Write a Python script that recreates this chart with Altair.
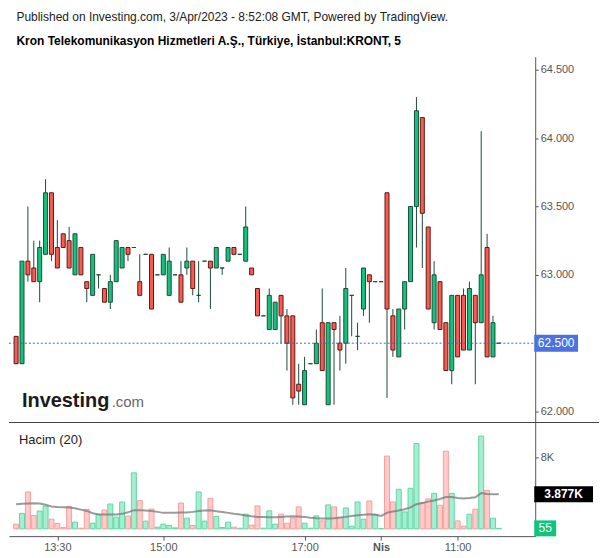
import altair as alt
import pandas as pd
import numpy as np

# ---- data (5-minute candles, index 1..83) ----
opens = [62.55, 62.35, 63.10, 63.05, 62.95, 63.15, 63.60, 63.20, 63.30, 63.25,
         63.00, 63.20, 62.95, 62.85, 63.00, 62.90, 62.80, 62.95, 63.05, 63.20,
         63.20, 62.95, 63.15, 63.15, 63.00, 63.00, 62.85, 63.00, 63.00, 63.05,
         63.10, 62.85, 63.10, 63.10, 63.05, 63.05, 63.10, 63.20, 63.15, 63.10,
         63.05, 62.90, 62.70, 62.60, 62.60, 62.85, 62.70, 62.70, 62.20, 62.05,
         62.35, 62.35, 62.65, 62.05, 62.65, 62.50, 62.50, 62.85, 62.55, 62.75,
         63.00, 62.95, 62.95, 63.60, 62.70, 62.40, 62.75, 62.95, 63.50, 64.15,
         63.35, 62.65, 62.95, 62.65, 62.30, 62.85, 62.85, 62.45, 62.85, 62.65,
         63.20, 62.40, 62.50]
highs = [62.55, 63.10, 63.50, 63.25, 63.25, 63.70, 63.60, 63.40, 63.30, 63.35,
         63.30, 63.20, 62.95, 63.15, 63.00, 62.90, 63.00, 63.25, 63.20, 63.20,
         63.20, 63.15, 63.15, 63.15, 63.00, 63.15, 63.20, 63.00, 63.10, 63.20,
         63.10, 63.10, 63.10, 63.10, 63.20, 63.05, 63.20, 63.20, 63.15, 63.50,
         63.05, 62.90, 62.70, 62.90, 62.80, 62.85, 62.75, 62.70, 62.35, 62.40,
         62.35, 62.60, 62.90, 62.65, 62.65, 62.70, 63.05, 62.85, 62.65, 63.05,
         63.00, 62.95, 62.95, 63.60, 62.75, 62.75, 62.95, 63.50, 64.30, 64.15,
         63.35, 63.10, 62.95, 62.65, 62.85, 62.85, 62.90, 62.95, 62.85, 64.05,
         63.30, 62.70, 62.50]
lows = [62.35, 62.35, 62.95, 62.95, 62.80, 63.15, 63.10, 63.05, 63.20, 63.05,
        63.00, 63.00, 62.80, 62.85, 62.90, 62.80, 62.75, 62.95, 63.05, 63.10,
        63.20, 62.85, 63.15, 62.75, 63.00, 63.00, 62.85, 63.00, 62.80, 63.00,
        62.85, 62.80, 63.10, 62.75, 63.05, 63.00, 63.10, 63.15, 63.15, 63.10,
        63.00, 62.70, 62.70, 62.60, 62.60, 62.50, 62.30, 62.05, 62.05, 62.05,
        62.35, 62.35, 62.30, 62.05, 62.05, 62.30, 62.35, 62.55, 62.45, 62.70,
        62.65, 62.95, 62.95, 62.10, 62.40, 62.40, 62.60, 62.95, 63.20, 63.05,
        62.75, 62.60, 62.60, 62.30, 62.20, 62.40, 62.45, 62.45, 62.20, 62.65,
        62.40, 62.40, 62.50]
closes = [62.35, 63.10, 63.00, 62.95, 63.20, 63.60, 63.15, 63.05, 63.20, 63.05,
          63.30, 63.00, 62.90, 63.15, 63.00, 62.80, 62.95, 63.25, 63.20, 63.15,
          63.20, 62.85, 63.15, 62.75, 63.00, 63.15, 63.10, 63.00, 62.80, 63.10,
          62.90, 62.85, 63.10, 63.05, 63.20, 63.05, 63.20, 63.15, 63.15, 63.35,
          63.00, 62.70, 62.70, 62.85, 62.80, 62.70, 62.50, 62.10, 62.15, 62.30,
          62.35, 62.50, 62.30, 62.65, 62.60, 62.45, 62.90, 62.85, 62.55, 63.05,
          62.95, 62.95, 62.95, 62.75, 62.45, 62.75, 62.95, 63.50, 64.20, 63.45,
          62.75, 63.00, 62.60, 62.30, 62.85, 62.40, 62.45, 62.90, 62.65, 63.00,
          62.40, 62.65, 62.50]
volumes = [530, 1730, 4130, 1500, 1990, 2550, 1090, 600, 150, 2520,
           750, 75, 2180, 640, 1615, 2100, 2780, 1315, 3000, 1430,
           6270, 3155, 865, 2215, 190, 525, 375, 110, 2890, 1200,
           375, 4130, 865, 3415, 1390, 150, 750, 190, 75, 1640,
           410, 2570, 75, 2010, 520, 1640, 630, 1230, 2455, 630,
           75, 1450, 890, 2680, 2455, 1265, 2340, 300, 3010, 1080,
           3125, 1640, 30, 8150, 3010, 4430, 1900, 4540, 9560, 2940,
           3350, 3980, 2640, 8700, 3980, 890, 300, 1640, 2200, 10380,
           4315, 1190, 55]
vol_ma = [2760, 2800, 2850, 2870, 2830, 2700, 2500, 2450, 2420, 2390,
          2300, 2150, 2010, 1750, 1600, 1600, 1600, 1620, 1680, 1850,
          2090, 2080, 2050, 2010, 1900, 1790, 1800, 1810, 1820, 1820,
          1900, 2010, 2060, 2090, 1980, 1880, 1790, 1680, 1600, 1490,
          1400, 1340, 1320, 1300, 1300, 1340, 1380, 1420, 1380, 1340,
          1250, 1180, 1160, 1160, 1200, 1270, 1340, 1440, 1530, 1590,
          1640, 1570, 1450, 1800, 1950, 2050, 2200, 2400, 2760, 2900,
          3050, 3170, 3350, 3570, 3560, 3450, 3390, 3450, 3540, 4000,
          3900, 3880, 3877]
tick_idx = [8, 26, 50, 63, 76]
tick_labels = ["13:30", "15:00", "17:00", "Nis", "11:00"]
bold_tick = 63
price_ticks = [62.0, 62.5, 63.0, 63.5, 64.0, 64.5]
vol_ticks = [8000]

FONT = "Liberation Sans"
n = len(opens)
df = pd.DataFrame({"i": list(range(1, n + 1)), "open": opens, "high": highs,
                   "low": lows, "close": closes, "vol": volumes, "ma": vol_ma})
df["dir"] = np.where(df["close"] >= df["open"], "up", "down")
df["vdir"] = np.where(df["close"] >= df["open"], "vup", "vdown")

W = 528
HP = 367
HV = 114
XD = [0.63, 88.33]
xs = alt.Scale(domain=XD, nice=False, zero=False)
ps = alt.Scale(domain=[61.92, 64.595], nice=False, zero=False)
vs = alt.Scale(domain=[-815, 11905], nice=False, zero=False)

# the last price is shown in its own box, so its plain axis label is left out
axis_prices = [p for p in price_ticks if abs(p - closes[-1]) > 1e-9]
price_axis = alt.Axis(orient="right", values=axis_prices, format=".3f", grid=False,
                      title=None, tickSize=3, labelPadding=2, labelFontSize=11,
                      labelColor="#555555", tickColor="#555555", domainColor="#555555",
                      labelFont=FONT)
x_none = alt.X("i:Q", scale=xs, axis=None)

base = alt.Chart(df)
wicks = base.mark_rule(color="#1d4b39", strokeWidth=1, clip=True).encode(
    x=x_none, y=alt.Y("low:Q", scale=ps, axis=price_axis), y2="high:Q")
bodies = base.mark_bar(size=4, strokeWidth=1, clip=True).encode(
    x=x_none, y=alt.Y("open:Q", scale=ps, axis=price_axis), y2="close:Q",
    fill=alt.Fill("dir:N", scale=alt.Scale(domain=["up", "down"], range=["#10c47d", "#f75b52"]), legend=None),
    stroke=alt.Stroke("dir:N", scale=alt.Scale(domain=["up", "down"], range=["#1d4b39", "#5c1a14"]), legend=None))

last = pd.DataFrame({"p": [closes[-1]], "lbl": [f"{closes[-1]:.3f}"]})
lc = alt.Chart(last)
last_line = lc.mark_rule(color="#3b63f0", strokeWidth=1, strokeDash=[2, 2]).encode(
    x=alt.value(0), x2=alt.value(W), y=alt.Y("p:Q", scale=ps, axis=price_axis))
last_box = lc.mark_point(shape="M-1,-0.386L1,-0.386L1,0.386L-1,0.386Z", size=1936,
                         filled=True, color="#4a72e0", opacity=1).encode(
    x=alt.value(W + 21), y=alt.Y("p:Q", scale=ps, axis=price_axis))
last_txt = lc.mark_text(color="white", fontSize=12, font=FONT, align="center",
                        baseline="middle").encode(
    x=alt.value(W + 21), y=alt.Y("p:Q", scale=ps, axis=price_axis), text="lbl:N")

logo = pd.DataFrame({"a": ["Investing"], "b": [".com"]})
logo1 = alt.Chart(logo).mark_text(fontSize=20, fontWeight="bold", font=FONT, color="#1a1a1a",
                                  align="left", baseline="alphabetic").encode(
    x=alt.value(13), y=alt.value(351), text="a:N")
logo2 = alt.Chart(logo).mark_text(fontSize=15, font=FONT, color="#666666",
                                  align="left", baseline="alphabetic").encode(
    x=alt.value(103), y=alt.value(351), text="b:N")

price_panel = alt.layer(wicks, bodies, last_line, last_box, last_txt, logo1, logo2).properties(
    width=W, height=HP)

# ---- volume panel ----
label_expr = " : ".join(f"datum.value == {t} ? '{l}'" for t, l in zip(tick_idx, tick_labels)) + " : ''"
x_axis = alt.Axis(values=tick_idx, labelExpr=label_expr, grid=False, title=None, tickSize=4,
                  labelPadding=1, labelFontSize=11, labelColor="#555555", tickColor="#555555",
                  domainColor="#555555", labelFont=FONT,
                  labelFontWeight={"condition": {"test": f"datum.value == {bold_tick}", "value": "bold"},
                                   "value": "normal"})
x_vol = alt.X("i:Q", scale=xs, axis=x_axis)
vol_axis = alt.Axis(orient="right", values=vol_ticks, labelExpr="datum.value/1000 + 'K'", grid=False,
                    title=None, tickSize=3, labelPadding=2, labelFontSize=11, labelColor="#555555",
                    tickColor="#555555", domainColor="#555555", labelFont=FONT)

vb = alt.Chart(df)
vbars = vb.mark_bar(size=5, strokeWidth=1).encode(
    x=x_vol, y=alt.Y("vol:Q", scale=vs, axis=vol_axis), y2=alt.datum(0),
    fill=alt.Fill("vdir:N", scale=alt.Scale(domain=["vup", "vdown"], range=["#a6edd1", "#ffcbca"]), legend=None),
    stroke=alt.Stroke("vdir:N", scale=alt.Scale(domain=["vup", "vdown"], range=["#5fd8a6", "#f7a09c"]), legend=None))
vline = vb.mark_line(color="#7a7a7a", strokeWidth=2, opacity=0.75).encode(
    x=x_vol, y=alt.Y("ma:Q", scale=vs, axis=vol_axis))

sep = alt.Chart(pd.DataFrame({"k": [0]})).mark_rule(color="#444444", strokeWidth=1).encode(
    x=alt.value(0), x2=alt.value(592), y=alt.value(0))
hacim = alt.Chart(pd.DataFrame({"t": ["Hacim (20)"]})).mark_text(
    fontSize=13, font=FONT, color="#222222", align="left", baseline="middle").encode(
    x=alt.value(10), y=alt.value(18), text="t:N")

vlast = pd.DataFrame({"v": [vol_ma[-1], volumes[-1]],
                      "lbl": [f"{vol_ma[-1] / 1000:.3f}K", f"{volumes[-1]}"]})
ma_box = alt.Chart(vlast.iloc[[0]]).mark_point(shape="M-1,-0.271L1,-0.271L1,0.271L-1,0.271Z",
                                               size=3481, filled=True, color="#000000", opacity=1).encode(
    x=alt.value(W + 28.5), y=alt.Y("v:Q", scale=vs, axis=vol_axis))
ma_txt = alt.Chart(vlast.iloc[[0]]).mark_text(color="white", fontSize=12, fontWeight="bold", font=FONT,
                                              align="center", baseline="middle").encode(
    x=alt.value(W + 28.5), y=alt.Y("v:Q", scale=vs, axis=vol_axis), text="lbl:N")
v_box = alt.Chart(vlast.iloc[[1]]).mark_point(shape="M-1,-0.727L1,-0.727L1,0.727L-1,0.727Z",
                                              size=484, filled=True, color="#10c47d", opacity=1).encode(
    x=alt.value(W + 10), y=alt.Y("v:Q", scale=vs, axis=vol_axis))
v_txt = alt.Chart(vlast.iloc[[1]]).mark_text(color="white", fontSize=12, font=FONT,
                                             align="center", baseline="middle").encode(
    x=alt.value(W + 10), y=alt.Y("v:Q", scale=vs, axis=vol_axis), text="lbl:N")

vol_panel = alt.layer(vbars, vline, sep, hacim, ma_box, ma_txt, v_box, v_txt).properties(
    width=W, height=HV)

chart = alt.vconcat(price_panel, vol_panel, spacing=0, bounds="flush").resolve_scale(
    fill="independent", stroke="independent"
).properties(
    title=alt.TitleParams(
        text="Published on Investing.com, 3/Apr/2023 - 8:52:08 GMT, Powered by TradingView.",
        subtitle="Kron Telekomunikasyon Hizmetleri A.Ş., Türkiye, İstanbul:KRONT, 5",
        anchor="start", dx=8, offset=9, font=FONT, fontSize=12, fontWeight="normal",
        color="#222222", subtitleFont=FONT, subtitleFontSize=12, subtitleFontWeight="bold",
        subtitleColor="#000000", subtitlePadding=12),
    padding={"left": 8, "top": 10, "right": 0, "bottom": 0},
    background="white",
).configure_view(stroke=None)

chart.save("out.html", embed_options={"renderer": "svg", "actions": False})
